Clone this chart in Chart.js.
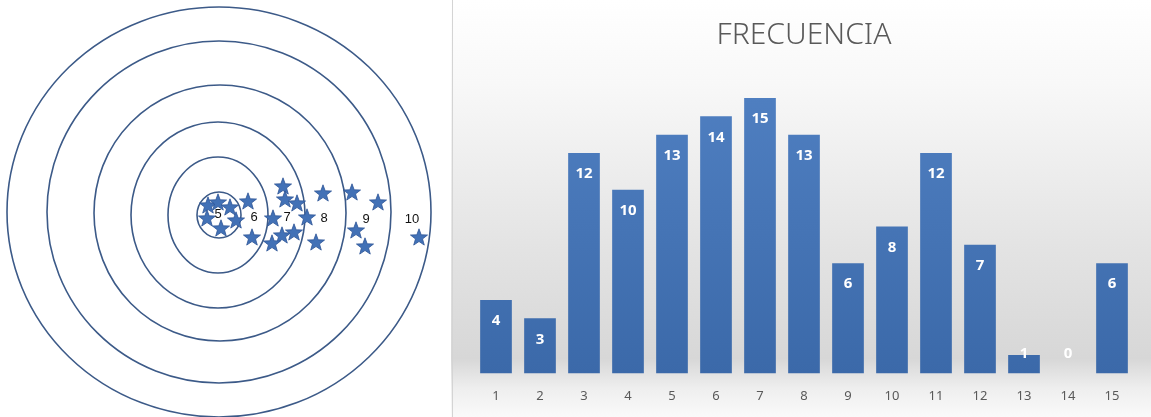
<!DOCTYPE html>
<html lang="es">
<head>
  <meta charset="UTF-8" />
  <title>Diana y frecuencia</title>
  <script src="https://cdn.jsdelivr.net/npm/chart.js@4"></script>
  <style>
    body { margin: 0; background: #fff; }
    #wrap { position: relative; width: 1151px; height: 417px; overflow: hidden; }
    #targetChart { position: absolute; left: 0; top: 0; }
    #freqChart { position: absolute; left: 451px; top: 0; }
  </style>
</head>
<body>
  <div id="wrap">
    <canvas id="targetChart" width="450" height="417"></canvas>
    <canvas id="freqChart" width="700" height="417"></canvas>
  </div>

  <script>
    // Diana: anillos (centro y radios medidos en el dibujo)
    const ringCx = [219, 218, 218, 220, 219, 219];
    const ringCy = [215, 215, 215, 213, 212, 212];
    const ringRx = [22, 50, 87, 126, 172, 212];
    const ringRy = [23, 58, 93, 128, 171, 205];

    // Números de cada zona
    const ringLabels = ['5', '6', '7', '8', '9', '10'];
    const labelX = [218, 254, 287, 324, 366, 412];
    const labelY = [214, 217, 217, 218, 219, 219];

    // Disparos (estrellas)
    const shotX = [208, 218, 230, 207, 236, 221, 248, 252, 273, 283, 285, 297, 282, 272, 294, 307, 323, 316, 352, 378, 356, 365, 419];
    const shotY = [205, 202, 207, 218, 220, 228, 201, 237, 218, 186, 199, 203, 235, 243, 232, 217, 193, 242, 192, 202, 230, 246, 237];

    // Histograma de frecuencias
    const categories = ['1', '2', '3', '4', '5', '6', '7', '8', '9', '10', '11', '12', '13', '14', '15'];
    const frequencies = [4, 3, 12, 10, 13, 14, 15, 13, 6, 8, 12, 7, 1, 0, 6];

    // estrella de 5 puntas como pointStyle
    function makeStar(size, outer, inner) {
      const c = document.createElement('canvas');
      c.width = size; c.height = size;
      const g = c.getContext('2d');
      g.beginPath();
      for (let i = 0; i < 10; i++) {
        const r = i % 2 === 0 ? outer : inner;
        const a = -Math.PI / 2 + i * Math.PI / 5;
        const px = size / 2 + r * Math.cos(a);
        const py = size / 2 + r * Math.sin(a) + 0.8;
        if (i === 0) g.moveTo(px, py); else g.lineTo(px, py);
      }
      g.closePath();
      g.fillStyle = '#4271b6';
      g.fill();
      g.strokeStyle = '#2f5597';
      g.lineWidth = 0.8;
      g.stroke();
      return c;
    }
    const starImg = makeStar(20, 9, 3.7);

    const ringsPlugin = {
      id: 'rings',
      beforeDatasetsDraw(chart) {
        const { ctx, scales: { x, y } } = chart;
        ctx.save();
        ctx.strokeStyle = '#3c5a88';
        ctx.lineWidth = 1.6;
        ringCx.forEach((cx, i) => {
          const px = x.getPixelForValue(cx);
          const py = y.getPixelForValue(ringCy[i]);
          const rx = Math.abs(x.getPixelForValue(cx + ringRx[i]) - px);
          const ry = Math.abs(y.getPixelForValue(ringCy[i] + ringRy[i]) - py);
          ctx.beginPath();
          ctx.ellipse(px, py, rx, ry, 0, 0, Math.PI * 2);
          ctx.stroke();
        });
        ctx.restore();
      },
      afterDatasetsDraw(chart) {
        const { ctx, scales: { x, y } } = chart;
        ctx.save();
        ctx.fillStyle = '#111';
        ctx.font = '13px "Liberation Sans", sans-serif';
        ctx.textAlign = 'center';
        ctx.textBaseline = 'middle';
        ringLabels.forEach((t, i) => {
          ctx.fillText(t, x.getPixelForValue(labelX[i]), y.getPixelForValue(labelY[i]));
        });
        ctx.restore();
      }
    };

    new Chart(document.getElementById('targetChart'), {
      type: 'scatter',
      data: {
        datasets: [{
          data: shotX.map((v, i) => ({ x: v, y: shotY[i] })),
          pointStyle: starImg,
          pointRadius: 9
        }]
      },
      options: {
        responsive: false,
        animation: false,
        layout: { padding: 0, autoPadding: false },
        plugins: { legend: { display: false }, tooltip: { enabled: false } },
        scales: {
          x: { type: 'linear', min: 0, max: 450, display: false },
          y: { type: 'linear', min: 0, max: 417, reverse: true, display: false }
        }
      },
      plugins: [ringsPlugin]
    });

    // fondo degradado y borde del gráfico de la derecha
    const panelBg = {
      id: 'panelBg',
      beforeDraw(chart) {
        const { ctx, width, height } = chart;
        const g = ctx.createLinearGradient(0, 0, 0, height);
        g.addColorStop(0, '#ffffff');
        g.addColorStop(0.2, '#f8f8f8');
        g.addColorStop(0.6, '#e3e3e3');
        g.addColorStop(0.86, '#d7d7d7');
        g.addColorStop(0.93, '#eeeeee');
        g.addColorStop(1, '#fafafa');
        ctx.save();
        ctx.fillStyle = g;
        ctx.fillRect(0, 0, width, height);
        ctx.strokeStyle = '#d4d4d4';
        ctx.lineWidth = 1;
        ctx.beginPath();
        ctx.moveTo(1.5, 0);
        ctx.lineTo(1.5, height);
        ctx.stroke();
        ctx.restore();
      }
    };

    // etiquetas de valor dentro del extremo de cada barra
    const valueLabels = {
      id: 'valueLabels',
      afterDatasetsDraw(chart) {
        const { ctx } = chart;
        const meta = chart.getDatasetMeta(0);
        ctx.save();
        ctx.fillStyle = '#ffffff';
        ctx.font = 'bold 15px "Open Sans", sans-serif';
        ctx.textAlign = 'center';
        ctx.textBaseline = 'middle';
        meta.data.forEach((bar, i) => {
          const yPos = Math.min(bar.y + 21, bar.base - 20);
          ctx.fillText(String(frequencies[i]), bar.x, yPos);
        });
        ctx.restore();
      }
    };

    new Chart(document.getElementById('freqChart'), {
      type: 'bar',
      data: {
        labels: categories,
        datasets: [{
          data: frequencies,
          backgroundColor: (c) => {
            const area = c.chart.chartArea;
            if (!area) return '#4474b6';
            const g = c.chart.ctx.createLinearGradient(0, area.top, 0, area.bottom);
            g.addColorStop(0, '#5080c2');
            g.addColorStop(1, '#3b69a9');
            return g;
          },
          barPercentage: 0.72,
          categoryPercentage: 1
        }]
      },
      options: {
        responsive: false,
        animation: false,
        layout: { padding: { left: 23, right: 17, top: 0, bottom: -2 } },
        plugins: {
          legend: { display: false },
          tooltip: { enabled: false },
          title: {
            display: true,
            text: 'FRECUENCIA',
            color: '#595959',
            font: { family: 'Noto Sans', size: 30, weight: '300' },
            padding: { top: 17, bottom: 26.6 }
          }
        },
        scales: {
          x: {
            grid: { display: false, drawTicks: false },
            border: { display: false },
            ticks: { color: '#595959', font: { family: 'Noto Sans', size: 13 }, padding: 15 }
          },
          y: { display: false, min: 0, max: 16 }
        }
      },
      plugins: [panelBg, valueLabels]
    });
  </script>
</body>
</html>
